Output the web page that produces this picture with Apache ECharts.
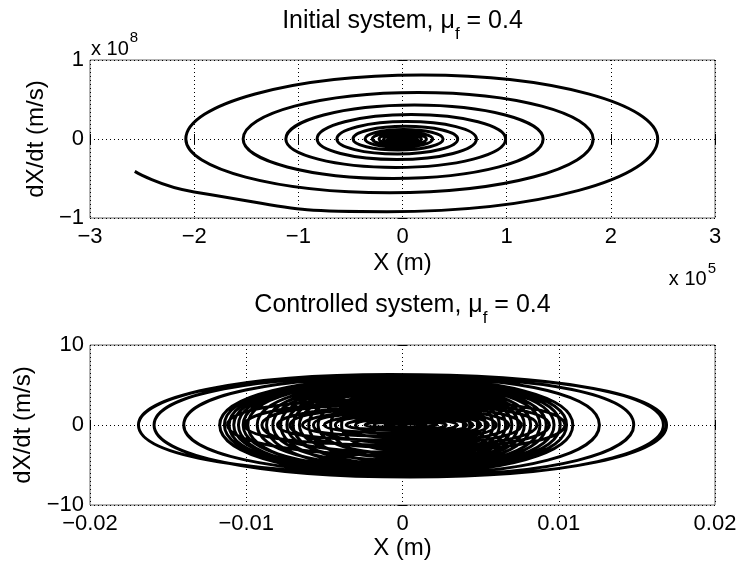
<!DOCTYPE html>
<html>
<head>
<meta charset="utf-8">
<script src="https://cdn.jsdelivr.net/npm/echarts@6/dist/echarts.min.js"></script>
<style>
html,body{margin:0;padding:0;background:#fff;}
#c{width:742px;height:572px;}
</style>
</head>
<body>
<div id="c"></div>
<script>
// ---------- Initial system (X in 1e5 m, dX/dt in 1e8 m/s) ----------
// spiral read as: left crossing, top, right crossing, bottom ... (inner -> outer), then tail
const initialX = [
  -0.05, 0, 0.05, -0.008,
  -0.065, 0, 0.065, -0.01,
  -0.085, 0, 0.085, -0.013,
  -0.11, 0, 0.11, -0.015,
  -0.14, 0, 0.14, -0.02,
  -0.18, 0, 0.18, -0.023,
  -0.225, 0.003, 0.23, -0.03,
  -0.29, 0, 0.29, -0.035,
  -0.36, 0.015, 0.39, -0.043,
  -0.475, 0.028, 0.53, -0.05,
  -0.63, 0.04, 0.71, -0.055,
  -0.82, 0.085, 0.99, -0.065,
  -1.12, 0.115, 1.35, -0.09,
  -1.53, 0.15, 1.83, -0.125,
  -2.08, 0.185, 2.45, -0.15,
  -2.0, -2.57
];
const initialV = [
  0, 0.015, 0, -0.018,
  0, 0.02, 0, -0.023,
  0, 0.026, 0, -0.03,
  0, 0.034, 0, -0.039,
  0, 0.043, 0, -0.05,
  0, 0.055, 0, -0.063,
  0, 0.07, 0, -0.08,
  0, 0.09, 0, -0.105,
  0, 0.12, 0, -0.14,
  0, 0.16, 0, -0.19,
  0, 0.22, 0, -0.26,
  0, 0.31, 0, -0.36,
  0, 0.43, 0, -0.5,
  0, 0.59, 0, -0.68,
  0, 0.81, 0, -0.92,
  -0.67, -0.41
];

// ---------- Controlled system (X in m, dX/dt in m/s) ----------
// loops 0-20: tall loops (widest -> narrowest); loops 21-34: flatter loops (widest -> narrowest)
const ctrlLeftX = [
  -0.0169,-0.0159,-0.0140,-0.0117,-0.0114,-0.0111,-0.0108,-0.0105,-0.0102,-0.0099,-0.0093,-0.0087,-0.0083,-0.0078,-0.0074,-0.0070,-0.0066,-0.0060,-0.0054,-0.0046,-0.0039,
  -0.0112,-0.0101,-0.0090,-0.0080,-0.0072,-0.0064,-0.0057,-0.0050,-0.0043,-0.0036,-0.0030,-0.0024,-0.0018,-0.0012];
const ctrlRightX = [
  0.0169,0.0167,0.0148,0.0126,0.0109,0.0105,0.0101,0.0097,0.0092,0.0088,0.0082,0.0078,0.0074,0.0070,0.0066,0.0062,0.0058,0.0053,0.0048,0.0043,0.0039,
  0.0104,0.0094,0.0086,0.0076,0.0068,0.0060,0.0055,0.0050,0.0045,0.0041,0.0035,0.0028,0.0022,0.0015];
const ctrlTopX = [
  -0.0008,0.0004,0.0004,0.0005,-0.0003,-0.0003,-0.0004,-0.0004,-0.0005,-0.0006,-0.0006,-0.0005,-0.0005,-0.0004,-0.0004,-0.0004,-0.0004,-0.0004,-0.0003,-0.0002,0,
  -0.0004,-0.0003,-0.0002,-0.0002,-0.0002,-0.0002,-0.0001,0,0.0001,0.0002,0.0002,0.0002,0.0002,0.0001];
const ctrlTopV = [
  6.3,6.2,6.0,5.9,5.8,5.7,5.6,5.5,5.4,5.3,5.2,5.0,4.9,4.7,4.6,4.4,4.3,4.1,3.9,3.7,3.5,
  3.2,2.9,2.6,2.3,2.0,1.8,1.5,1.3,1.1,0.9,0.7,0.5,0.35,0.2];
const ctrlBottomX = [
  0.0005,0.0014,0.0016,0.0006,-0.0001,-0.00015,-0.0002,-0.00025,-0.00035,-0.00025,-0.00025,-0.00025,-0.0002,-0.0002,-0.0002,-0.0002,-0.0001,-0.00005,0.0001,0.0002,0.0003,
  -0.0003,-0.0002,-0.0002,-0.0002,-0.0002,-0.0001,0,0,0.0001,0.0002,0.0002,0.0002,0.0002,0.0001];
const ctrlBottomV = [
  -6.5,-6.4,-6.2,-6.1,-6.0,-5.9,-5.8,-5.7,-5.6,-5.5,-5.4,-5.2,-5.1,-4.9,-4.8,-4.6,-4.4,-4.2,-4.0,-3.8,-3.6,
  -3.4,-3.1,-2.8,-2.5,-2.2,-1.9,-1.6,-1.4,-1.2,-1.0,-0.8,-0.6,-0.4,-0.25];
// order in which the trajectory visits the loops (starts and ends in the core)
const ctrlLoopOrder = [34,32,30,28,26,24,22, 20,18,16,14,12,10,8,6,4,2,0, 1,3,5,7,9,11,13,15,17,19, 21,23,25,27,29,31,33];

// ---------- Tick values ----------
const initialXTicks = [-3,-2,-1,0,1,2,3];
const initialVTicks = [-1,0,1];
const ctrlXTicks = [-0.02,-0.01,0,0.01,0.02];
const ctrlVTicks = [-10,0,10];

// ---------- Build series data ----------
const initialData = initialX.map((x, i) => [x, initialV[i]]);
const ctrlData = [];
ctrlLoopOrder.forEach(i => {
  ctrlData.push([ctrlLeftX[i], 0]);
  ctrlData.push([ctrlTopX[i], ctrlTopV[i]]);
  ctrlData.push([ctrlRightX[i], 0]);
  ctrlData.push([ctrlBottomX[i], ctrlBottomV[i]]);
});

const FAM = 'Liberation Sans';
const FONT = '"Liberation Sans", Arial, Helvetica, sans-serif';
const fmt = v => String(+(+v).toFixed(4)).replace('-', '\u2212');

const mctx = document.createElement('canvas').getContext('2d');
function tw(text, size) { mctx.font = size + 'px "' + FAM + '"'; return mctx.measureText(text).width; }
function txt(text, x, y, size, align) {
  return {type: 'text', x: x, y: y, silent: true,
    style: {text: text, fontSize: size, fontFamily: FONT, fill: '#000', align: align || 'left', verticalAlign: 'middle'}};
}
function titleParts(main1, sub, main2, cx, yMain, ySub) {
  const M = 25, S = 17;
  const w1 = tw(main1, M), ws = tw(sub, S), w2 = tw(main2, M);
  const x0 = cx - (w1 + ws + w2) / 2;
  return [txt(main1, x0, yMain, M), txt(sub, x0 + w1, ySub, S), txt(main2, x0 + w1 + ws, yMain, M)];
}
const EXP_M = 20, EXP_S = 15;
const graphics = [].concat(
  titleParts('Initial system, \u03bc', 'f', ' = 0.4', 402.5, 21.5, 34),
  titleParts('Controlled system, \u03bc', 'f', ' = 0.4', 402.5, 305, 318),
  [txt('x 10', 91, 49, EXP_M), txt('8', 91 + tw('x 10', EXP_M) + 1, 38, EXP_S)],
  [txt('5', 716, 268.5, EXP_S, 'right'), txt('x 10', 716 - tw('5', EXP_S) - 1, 279, EXP_M, 'right')]
);

function xAxes(grid, ticks, name, gap) {
  const base = {gridIndex: grid, type: 'value', min: ticks[0], max: ticks[ticks.length - 1], interval: ticks[1] - ticks[0]};
  return [
    Object.assign({}, base, {
      position: 'bottom',
      axisLine: {show: false},
      axisTick: {inside: true, length: 5, lineStyle: {color: '#000'}},
      axisLabel: {fontSize: 22, fontFamily: FONT, color: '#000', margin: 8, formatter: fmt},
      splitLine: {show: true, lineStyle: {color: '#000', type: [1, 3], width: 1}},
      name: name, nameLocation: 'middle', nameGap: gap,
      nameTextStyle: {fontSize: 24, fontFamily: FONT, color: '#000'}
    }),
    Object.assign({}, base, {
      position: 'top', axisLine: {show: false},
      axisTick: {inside: true, length: 5, lineStyle: {color: '#000'}},
      axisLabel: {show: false}, splitLine: {show: false}
    })
  ];
}
function yAxes(grid, ticks, name) {
  const base = {gridIndex: grid, type: 'value', min: ticks[0], max: ticks[ticks.length - 1], interval: ticks[1] - ticks[0]};
  return [
    Object.assign({}, base, {
      position: 'left',
      axisLine: {show: false},
      axisTick: {inside: true, length: 5, lineStyle: {color: '#000'}},
      axisLabel: {fontSize: 22, fontFamily: FONT, color: '#000', margin: 6, formatter: fmt},
      splitLine: {show: true, lineStyle: {color: '#000', type: [1, 3], width: 1}},
      name: name, nameLocation: 'middle', nameGap: 42,
      nameTextStyle: {fontSize: 24, fontFamily: FONT, color: '#000'}
    }),
    Object.assign({}, base, {
      position: 'right', axisLine: {show: false},
      axisTick: {inside: true, length: 5, lineStyle: {color: '#000'}},
      axisLabel: {show: false}, splitLine: {show: false}
    })
  ];
}

const chart = echarts.init(document.getElementById('c'), null, {renderer: 'canvas'});
chart.setOption({
  animation: false,
  backgroundColor: '#fff',
  grid: [
    {left: 90, top: 60, width: 625, height: 158, show: true, borderColor: '#666', borderWidth: 1, backgroundColor: 'transparent'},
    {left: 90, top: 345, width: 625, height: 160, show: true, borderColor: '#666', borderWidth: 1, backgroundColor: 'transparent'}
  ],
  xAxis: [].concat(xAxes(0, initialXTicks, 'X (m)', 33), xAxes(1, ctrlXTicks, 'X (m)', 31)),
  yAxis: [].concat(yAxes(0, initialVTicks, 'dX/dt (m/s)'), yAxes(1, ctrlVTicks, 'dX/dt (m/s)')),
  graphic: graphics,
  series: [
    {type: 'line', xAxisIndex: 0, yAxisIndex: 0, data: initialData, showSymbol: false, symbol: 'none',
     smooth: 0.55, lineStyle: {color: '#000', width: 3}, silent: true},
    {type: 'line', xAxisIndex: 2, yAxisIndex: 2, data: ctrlData, showSymbol: false, symbol: 'none',
     smooth: 0.6, lineStyle: {color: '#000', width: 3}, silent: true}
  ]
});
</script>
</body>
</html>
